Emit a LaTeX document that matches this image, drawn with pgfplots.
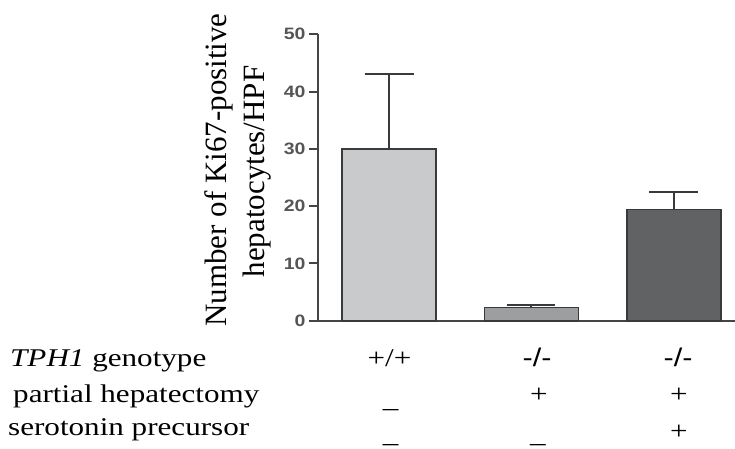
\documentclass[border=0pt]{standalone}
\usepackage{fontspec}
\setmainfont{Liberation Serif}
\newfontfamily\tabfont[FakeStretch=1.22]{Liberation Serif}
\newfontfamily\tabsans[FakeStretch=1.2]{Liberation Sans}
\newfontfamily\tickfont[FakeStretch=1.18]{Liberation Sans}
\usepackage{pgfplots}
\pgfplotsset{compat=1.18}

\definecolor{edge}{HTML}{3A3A3A}
\definecolor{axisgray}{HTML}{454545}
\definecolor{tickgray}{HTML}{555555}
\definecolor{barA}{HTML}{C9CACC}
\definecolor{barB}{HTML}{9D9EA0}
\definecolor{barC}{HTML}{616264}

\begin{document}
\begin{tikzpicture}
\useasboundingbox (-318bp,-128.3bp) rectangle (417bp,320.7bp);
\begin{axis}[
    scale only axis,
    width=417bp, height=286.4bp,
    xmin=-0.5, xmax=2.43,
    ymin=0, ymax=50,
    axis x line=bottom, axis y line=left,
    axis line style={-, line width=2bp, draw=axisgray},
    xtick=\empty,
    ytick={0,10,20,30,40,50},
    tick align=outside,
    major tick length=9bp,
    every tick/.style={line width=2bp, draw=axisgray},
    /pgf/number format/assume math mode=true,
    yticklabel style={font=\tickfont\bfseries\fontsize{16.5bp}{18bp}\selectfont, text=tickgray},
    ybar, bar width=94bp, bar shift=0pt,
    clip=false,
]
\addplot[fill=barA, draw=edge, line width=1.6bp,
    error bars/.cd, y dir=plus, y explicit,
    error bar style={line width=2bp, draw=edge},
    error mark options={rotate=90, mark size=24.5bp, line width=2bp, draw=edge}]
    coordinates {(0,30) +- (0,13)};
\addplot[fill=barB, draw=edge, line width=1.6bp,
    error bars/.cd, y dir=plus, y explicit,
    error bar style={line width=2bp, draw=edge},
    error mark options={rotate=90, mark size=24bp, line width=2bp, draw=edge}]
    coordinates {(1,2.3) +- (0,0.4)};
\addplot[fill=barC, draw=edge, line width=1.6bp,
    error bars/.cd, y dir=plus, y explicit,
    error bar style={line width=2bp, draw=edge},
    error mark options={rotate=90, mark size=24.5bp, line width=2bp, draw=edge}]
    coordinates {(2,19.4) +- (0,3.1)};
\end{axis}

% y label, two lines
\node[rotate=90, anchor=base, inner sep=0pt, font=\fontsize{31bp}{36bp}\selectfont]
    at (-91bp,150.7bp) {Number of Ki67-positive};
\node[rotate=90, anchor=base, inner sep=0pt, font=\fontsize{31bp}{36bp}\selectfont]
    at (-53bp,149.2bp) {hepatocytes/HPF};

% condition table below the bars
\begin{scope}[every node/.style={inner sep=0pt, font=\tabfont\fontsize{25.5bp}{30bp}\selectfont}]
\node[anchor=base west] at (-308bp,-46bp) {\textit{TPH1} genotype};
\node[anchor=base west] at (-305bp,-82bp) {partial hepatectomy};
\node[anchor=base west] at (-310bp,-114.3bp) {serotonin precursor};

\node[anchor=base] at (71.5bp,-46bp) {+/+};
\node[anchor=base, font=\tabsans\fontsize{25.5bp}{30bp}\selectfont] at (219bp,-46bp) {-/-};
\node[anchor=base, font=\tabsans\fontsize{25.5bp}{30bp}\selectfont] at (360bp,-46bp) {-/-};

\node[anchor=base] at (72.7bp,-86.8bp) {\_};
\node[anchor=base] at (221bp,-82bp) {+};
\node[anchor=base] at (361bp,-82bp) {+};

\node[anchor=base] at (72.7bp,-121.5bp) {\_};
\node[anchor=base] at (220bp,-121.5bp) {\_};
\node[anchor=base] at (361bp,-118.3bp) {+};
\end{scope}
\end{tikzpicture}
\end{document}
